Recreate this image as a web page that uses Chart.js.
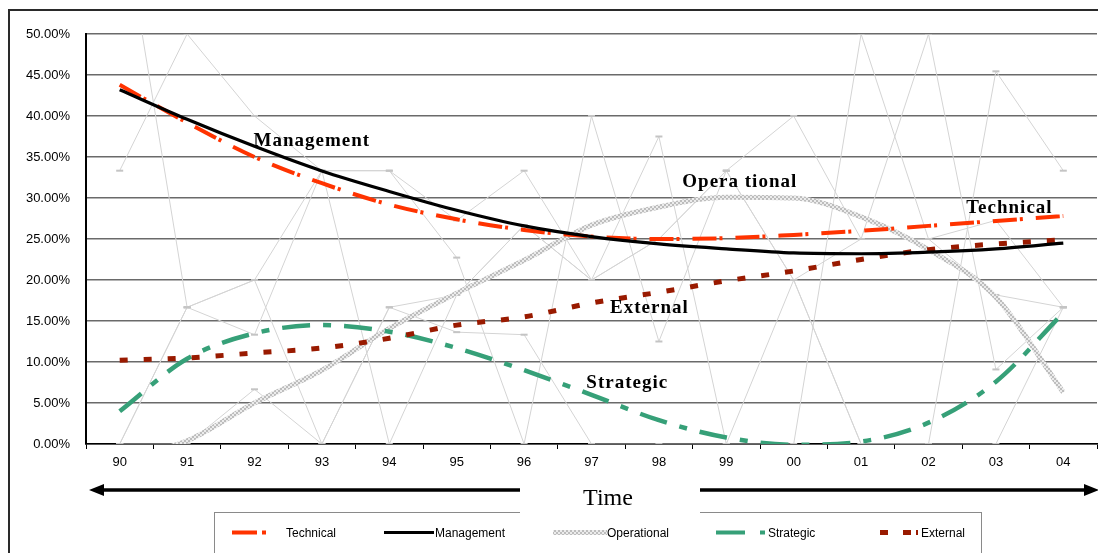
<!DOCTYPE html>
<html><head><meta charset="utf-8">
<script src="https://cdn.jsdelivr.net/npm/chart.js@4.4.0/dist/chart.umd.min.js"></script>
<style>
html,body{margin:0;padding:0;background:#fff;overflow:hidden;width:1098px;height:553px;}
#frame{position:absolute;left:8px;top:9px;width:1200px;height:700px;border:2px solid #2a2a2a;box-sizing:border-box;}
#c{position:absolute;left:0;top:0;}
</style></head><body>
<div id="frame"></div>
<canvas id="c" width="1103" height="553"></canvas>
<script>
// ---- data ----
const categories = ['90','91','92','93','94','95','96','97','98','99','00','01','02','03','04'];
const yTickLabels = ['0.00%','5.00%','10.00%','15.00%','20.00%','25.00%','30.00%','35.00%','40.00%','45.00%','50.00%'];
const seriesNames = ['Technical','Management','Operational','Strategic','External'];

// yearly shares (thin grey lines)
const rawTechnical   = [66.67,16.67,13.33,33.33,33.33,27.27,33.33,20,37.5,0,20,0,0,45.45,33.33];
const rawManagement  = [33.33,50,40,33.33,33.33,22.73,0,40,12.5,33.33,40,25,50,9.09,16.67];
const rawOperational = [0,0,6.67,0,16.67,13.64,13.33,0,0,0,0,50,25,27.27,16.67];
const rawStrategic   = [0,16.67,20,0,16.67,18.18,26.67,20,25,33.33,20,25,25,18.18,16.67];
const rawExternal    = [0,16.67,20,33.33,0,18.18,26.67,20,25,33.33,20,0,0,0,16.67];

// trend lines
const trendTechnical   = [43.8,39.2,35.0,31.8,29.2,27.4,26.1,25.3,25.0,25.1,25.5,26.0,26.6,27.2,27.8];
const trendManagement  = [43.2,39.6,36.3,33.3,30.8,28.5,26.6,25.3,24.4,23.8,23.3,23.2,23.4,23.8,24.5];
const trendOperational = [-2.0,0.4,5.0,9.0,14.1,18.4,22.4,26.7,28.9,30.1,30.0,27.7,23.7,17.9,6.3];
const trendStrategic   = [4.0,10.4,13.5,14.5,13.7,11.7,9.0,6.0,2.9,0.8,-0.1,0.3,2.6,7.6,16.0];
const trendExternal    = [10.2,10.5,11.1,11.7,12.9,14.5,15.5,17.2,18.5,19.9,21.1,22.5,23.7,24.4,24.9];

// in-chart labels: [text, category index, value]
const labelTexts = ['Management','Opera tional','Technical','External','Strategic'];
const labelX = [2.85,9.2,13.2,7.86,7.53];
const labelY = [36.3,31.3,28.2,16.0,6.85];

// ---- styles ----
const colTech = '#ff3300', colMan = '#000000', colStr = '#36a078', colExt = '#991a00';
const dashTech = [24,3,3,13], dashStr = [28,13,8,13], dashExt = [8,16];

function makePattern(){
  const p=document.createElement('canvas'); p.width=4; p.height=4;
  const g=p.getContext('2d');
  g.fillStyle='#ececec'; g.fillRect(0,0,4,4);
  g.fillStyle='#bdbdbd'; g.fillRect(0,0,2,2); g.fillRect(2,2,2,2);
  return g.createPattern(p,'repeat');
}
const ctx = document.getElementById('c').getContext('2d');
const opPattern = makePattern();

function rawSet(data){
  return {data, borderColor:'#d4d4d4', borderWidth:1, tension:0,
    pointStyle:'line', pointRadius:3.5, pointBorderColor:'#c4c4c4', pointBorderWidth:2,
    pointBackgroundColor:'#c4c4c4', order:10, fill:false};
}
function trendSet(data, color, width, dash, order){
  return {data, borderColor:color, borderWidth:width, borderDash:dash, pointRadius:0,
    cubicInterpolationMode:'monotone', order, fill:false, borderCapStyle:'butt'};
}

const overlay = {
  id:'overlay',
  afterDraw(chart){
    const c = chart.ctx, xs = chart.scales.x, ys = chart.scales.y;
    c.save();
    // in-chart labels
    c.fillStyle='#000';
    c.font='bold 19px "Liberation Serif", "Times New Roman", serif';
    c.textAlign='center'; c.textBaseline='alphabetic';
    try { c.letterSpacing='1px'; } catch(e){}
    labelTexts.forEach((t,i)=>{
      c.fillText(t, xs.getPixelForValue(labelX[i]), ys.getPixelForValue(labelY[i]));
    });
    try { c.letterSpacing='0px'; } catch(e){}

    // time arrow
    const ay = 490;
    c.strokeStyle='#000'; c.lineWidth=3.5; c.setLineDash([]);
    c.beginPath(); c.moveTo(100,ay); c.lineTo(1088,ay); c.stroke();
    c.fillStyle='#000';
    c.beginPath(); c.moveTo(89,ay); c.lineTo(104,ay-6); c.lineTo(104,ay+6); c.closePath(); c.fill();
    c.beginPath(); c.moveTo(1099,ay); c.lineTo(1084,ay-6); c.lineTo(1084,ay+6); c.closePath(); c.fill();

    // legend box
    c.strokeStyle='#8a8a8a'; c.lineWidth=1;
    c.strokeRect(214.5,512.5,767,80);
    const ly = 532.5;
    c.lineCap='butt';
    // Technical
    c.strokeStyle=colTech; c.lineWidth=4; c.setLineDash([25,5,4,100]);
    c.beginPath(); c.moveTo(232,ly); c.lineTo(268,ly); c.stroke();
    // Management
    c.strokeStyle=colMan; c.lineWidth=3; c.setLineDash([]);
    c.beginPath(); c.moveTo(384,ly); c.lineTo(434,ly); c.stroke();
    // Operational
    c.strokeStyle=opPattern; c.lineWidth=5;
    c.beginPath(); c.moveTo(553,ly); c.lineTo(607,ly); c.stroke();
    // Strategic
    c.strokeStyle=colStr; c.lineWidth=4; c.setLineDash([29,15,5,100]);
    c.beginPath(); c.moveTo(716,ly); c.lineTo(766,ly); c.stroke();
    // External
    c.strokeStyle=colExt; c.lineWidth=5; c.setLineDash([8,15,8,5,2,100]);
    c.beginPath(); c.moveTo(880,ly); c.lineTo(920,ly); c.stroke();
    c.setLineDash([]);
    c.fillStyle='#000';
    c.font='12px "Liberation Sans", Arial, sans-serif';
    c.textAlign='left'; c.textBaseline='middle';
    const tx=[286,435,607,768,921];
    seriesNames.forEach((n,i)=>c.fillText(n, tx[i], ly+1));

    // Time box
    c.fillStyle='#fff'; c.fillRect(520,476,180,38);
    c.fillStyle='#000';
    c.font='24px "Liberation Serif", "Times New Roman", serif';
    c.textAlign='center'; c.textBaseline='alphabetic';
    c.fillText('Time', 608, 505);
    c.restore();
  }
};

new Chart(ctx, {
  type:'line',
  data:{
    labels: categories,
    datasets:[
      trendSet(trendManagement, colMan, 3.2, [], 1),
      trendSet(trendTechnical, colTech, 4, dashTech, 2),
      trendSet(trendExternal, colExt, 5, dashExt, 3),
      trendSet(trendStrategic, colStr, 4.5, dashStr, 4),
      trendSet(trendOperational, opPattern, 5, [], 5),
      rawSet(rawTechnical), rawSet(rawManagement), rawSet(rawOperational),
      rawSet(rawStrategic), rawSet(rawExternal)
    ]
  },
  options:{
    responsive:false, animation:false, devicePixelRatio:1,
    layout:{padding:{left:0,right:0,top:34,bottom:0}},
    plugins:{legend:{display:false}, tooltip:{enabled:false}},
    scales:{
      x:{
        offset:true,
        grid:{offset:true, drawOnChartArea:false, drawTicks:true, tickLength:5, color:'#000', lineWidth:1},
        border:{color:'#000', width:1.5},
        ticks:{color:'#000', font:{family:'"Liberation Sans", Arial, sans-serif', size:13}, padding:6, maxRotation:0, autoSkip:false},
        afterFit(s){ s.height = 109; }
      },
      y:{
        min:0, max:50,
        ticks:{stepSize:5, color:'#000', font:{family:'"Liberation Sans", Arial, sans-serif', size:13}, padding:16,
          callback:(v,i)=>yTickLabels[i]},
        grid:{color:'#6a6a6a', lineWidth:1.6, drawTicks:false},
        border:{color:'#000', width:2},
        afterFit(s){ s.width = 86; }
      }
    }
  },
  plugins:[overlay]
});
</script>
</body></html>
